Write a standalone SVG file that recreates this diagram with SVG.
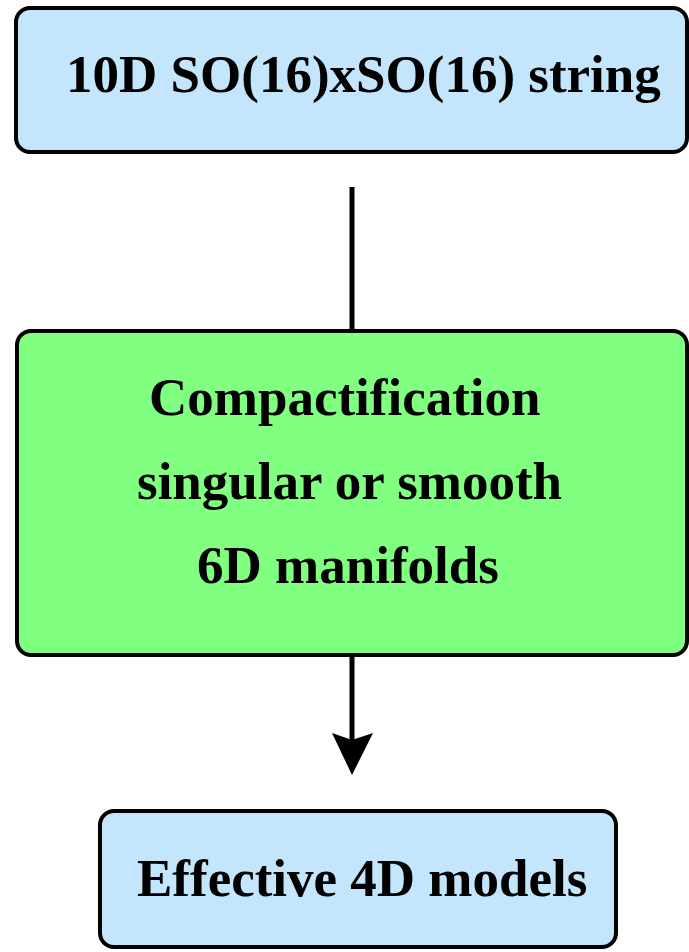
<svg xmlns="http://www.w3.org/2000/svg" width="689" height="952" viewBox="0 0 689 952">
  <style>
    .box { stroke: #000; stroke-width: 4; }
    .blue { fill: #c3e6fd; }
    .green { fill: #80ff80; }
    .label { font-family: "Liberation Serif", "Times New Roman", serif; font-weight: bold; font-size: 53px; fill: #000; }
    .conn { stroke: #000; stroke-width: 5; fill: none; }
    .head { fill: #000; stroke: none; }
  </style>

  <g id="connectors">
    <line class="conn" x1="352" y1="187" x2="352" y2="331"/>
    <line class="conn" x1="352" y1="656" x2="352" y2="742"/>
    <path class="head" d="M332,733 L352,740 L373,733 L352,775 Z"/>
  </g>

  <g id="string10d">
    <rect class="box blue" x="16" y="8" width="671" height="144" rx="14"/>
    <text class="label" x="66" y="92">10D SO(16)xSO(16) string</text>
  </g>

  <g id="compactification">
    <rect class="box green" x="17" y="331" width="670" height="324" rx="14"/>
    <text class="label" x="149" y="415">Compactification</text>
    <text class="label" x="137" y="499">singular or smooth</text>
    <text class="label" x="197" y="583">6D manifolds</text>
  </g>

  <g id="models4d">
    <rect class="box blue" x="100" y="811" width="516" height="136" rx="14"/>
    <text class="label" x="137" y="896">Effective 4D models</text>
  </g>
</svg>
